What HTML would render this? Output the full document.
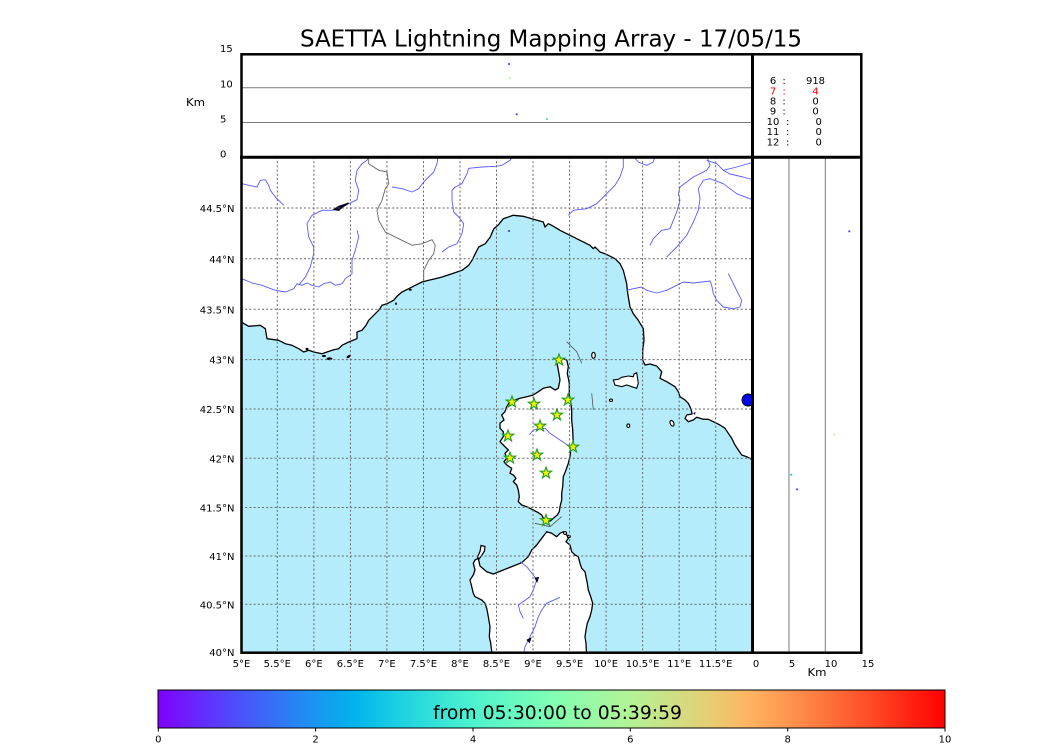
<!DOCTYPE html>
<html><head><meta charset="utf-8"><style>
html,body{margin:0;padding:0;background:#fff;}
svg{display:block;}
text{font-family:"DejaVu Sans","Liberation Sans",sans-serif;fill:#000;}
</style></head><body>
<svg width="1050" height="750" viewBox="0 0 1050 750" xmlns="http://www.w3.org/2000/svg">
<defs>
<linearGradient id="rb" x1="0" x2="1" y1="0" y2="0">
<stop offset="0" stop-color="#8000ff"/>
<stop offset="0.1" stop-color="#4d4ffc"/>
<stop offset="0.2" stop-color="#1a96f2"/>
<stop offset="0.25" stop-color="#00b4eb"/>
<stop offset="0.3" stop-color="#1acee3"/>
<stop offset="0.4" stop-color="#4df3ce"/>
<stop offset="0.5" stop-color="#80ffb4"/>
<stop offset="0.6" stop-color="#b3f396"/>
<stop offset="0.7" stop-color="#e6ce74"/>
<stop offset="0.75" stop-color="#ffb462"/>
<stop offset="0.8" stop-color="#ff964f"/>
<stop offset="0.9" stop-color="#ff4f28"/>
<stop offset="1" stop-color="#ff0000"/>
</linearGradient>
<clipPath id="mapclip"><rect x="241.5" y="157.3" width="511" height="495.5"/></clipPath>
<path id="star" d="M0,-6 L1.41,-1.94 L5.71,-1.85 L2.28,0.74 L3.53,4.85 L0,2.4 L-3.53,4.85 L-2.28,0.74 L-5.71,-1.85 L-1.41,-1.94 Z" fill="#f4f400" stroke="#1f9a1f" stroke-width="1.1"/>
</defs>

<!-- Title -->
<text x="551" y="46.7" font-size="23" text-anchor="middle" textLength="502" lengthAdjust="spacingAndGlyphs">SAETTA Lightning Mapping Array - 17/05/15</text>

<!-- MAP -->
<g clip-path="url(#mapclip)">
<rect x="241.5" y="157.3" width="511" height="495.5" fill="#b4ecfc"/>
<!-- mainland -->
<path fill="#fff" stroke="#000" stroke-width="1.3" stroke-linejoin="round" d="M240,322 L242,322.5 L248.7,326.3 L260.3,325.3 L265.3,328.7 L267,338.7 L278.7,340.3 L285.3,343.7 L292,345.3 L298.7,348.7 L303.7,352 L308.7,350.3 L313.7,352 L322,353.7 L327,352 L333.7,349.7 L338.7,348.7 L342,345.3 L348.7,342 L357,338.7 L357,332 L362,330.3 L366,325.3 L368.7,320.3 L373.7,315.3 L378.7,310.3 L382,305.3 L387,303.7 L393.7,300.3 L397,296.3 L402,292 L408.7,288.7 L415.3,285.3 L422,282 L428.7,280.3 L435.3,278.7 L442,277 L452,273.7 L462,270.3 L468.7,265.3 L472,260.3 L475.3,253.7 L478.7,247 L485.3,243.7 L490.3,237 L493.7,229 L498.7,224.5 L503.3,218.7 L513.3,215.3 L523.3,216.3 L531.7,218.7 L543.3,222 L545,227 L548.3,223.7 L551.7,225.3 L560,230.3 L570,235.3 L580,240.3 L590,245.3 L593.3,248.7 L595,247 L600,252 L605,253.7 L608.3,255.3 L615,258.7 L620,263.7 L623.3,270.3 L625,277 L626.7,283.7 L627.3,290.3 L628.3,297 L630,307 L633.3,313.7 L638.3,320.3 L643.3,328.7 L644,340.3 L642.7,350 L642.7,360 L645,365 L650,364 L656.7,366 L661.7,371.7 L660,378.3 L666.7,381.7 L675,386.7 L678.3,391.7 L680,396.7 L685,400 L688.3,403.3 L690,406.7 L691.7,411.7 L692,414 L686.7,415 L685,418.3 L688.3,421.7 L693.3,420 L696.7,417.3 L703.3,419.3 L708.3,419.3 L713.3,421.7 L720,425 L725,428.3 L728.3,433.3 L731.7,438.3 L735,445 L738.3,450 L741.7,455 L746.7,456.7 L750,458.3 L754,461 L754,150 L240,150 Z"/>
<!-- Corsica -->
<path fill="#fff" stroke="#000" stroke-width="1.3" stroke-linejoin="round" d="M561.7,358.3 L566.7,360 L568.3,366.7 L567.3,373.3 L569.3,383.3 L569.3,395 L570.7,401.7 L571.7,410 L571.7,420 L572.7,430 L573.3,445 L570.7,450 L570,456.7 L568.3,463.3 L566,470 L563.3,476.7 L562.7,486.7 L561.7,493.3 L561.7,500 L560,506.7 L559.3,511.7 L557.3,515 L553.3,518.3 L550.7,520.7 L546.7,521.7 L544,519.3 L541.7,515 L538.3,512.7 L533.3,510 L526.7,506.7 L521.7,505 L518.3,501.7 L519.3,496.7 L518.3,490 L516.7,485 L513.3,481.7 L516,478.3 L513.3,475 L510,473.3 L511.7,468.3 L506.7,465 L504,461.7 L506.7,458.3 L505,453.3 L508.3,450 L503.3,445 L500,441.7 L503.3,436.7 L503.3,431.7 L500,428.3 L500,423.3 L504,420 L501.7,415 L505,411.7 L506.7,406.7 L510,401.7 L515,400 L520,398.3 L526.7,396.7 L533.3,395 L538.3,391.7 L543.3,388.3 L550,386.7 L555,390 L558.3,388.3 L560,380 L558.3,370 L556.7,361.7 Z"/>
<!-- Sardinia -->
<path fill="#fff" stroke="#000" stroke-width="1.3" stroke-linejoin="round" d="M546.7,531.7 L551.7,533.3 L556.7,536.7 L560,533.3 L563.3,531.7 L566.7,535 L568.3,538.3 L566,541.7 L570,545 L571.7,551.7 L575,555 L578.3,556.7 L580,563.3 L581.7,568.3 L585,571.7 L586,576.7 L587.3,583.3 L588.3,590 L590.7,596.7 L592.7,603.3 L591.7,610 L590,616.7 L587.3,623.3 L586,630 L585,636.7 L586,643.3 L586.7,656 L491.7,656 L491.7,651.7 L490.7,643.3 L489.3,636.7 L490,626.7 L488.3,616.7 L486.7,608.3 L485,603.3 L481.7,600 L478.3,598.3 L475,596.7 L473.3,593.3 L471.7,586.7 L470,580 L473.3,575 L475,570 L473.3,563.3 L475,560 L478.3,558.3 L480,566 L486.7,571.7 L493.3,574 L503.3,570 L513.3,566 L521.7,562.7 L528.3,556.7 L531.7,550 L536.7,545 L541.7,538.3 L545,534 Z"/>
<!-- Asinara -->
<path fill="#fff" stroke="#000" stroke-width="1.2" d="M481,545.5 L485,546.5 L484.5,551 L482,555 L479,559 L477.5,557 L480,551.5 Z"/>
<!-- small islands -->
<g fill="#fff" stroke="#000" stroke-width="1.1">
<path d="M613.3,380 L615,385 L621.7,386.7 L626.7,385 L631.7,386.7 L636.7,388.3 L638.3,383.3 L637.3,376.7 L636.7,372.7 L634,374 L633.3,376.7 L628.3,376 L621.7,377.3 L618.3,379.3 Z"/>
<ellipse cx="593.5" cy="355.3" rx="1.8" ry="3"/>
<ellipse cx="611" cy="400.3" rx="1.5" ry="1.2"/>
<ellipse cx="628.3" cy="425.7" rx="1.5" ry="1.8"/>
<ellipse cx="672" cy="423.3" rx="1.8" ry="3" transform="rotate(-25 672 423.3)"/>
<ellipse cx="565" cy="533" rx="1.6" ry="1.4"/>
<ellipse cx="569" cy="536.5" rx="1.3" ry="1.2"/>
</g>
<g fill="#000">
<ellipse cx="324" cy="356" rx="2" ry="1.1"/>
<ellipse cx="329.5" cy="358.8" rx="3" ry="1.4"/>
<ellipse cx="348.7" cy="356.5" rx="2.4" ry="1.2" transform="rotate(-35 348.7 356.5)"/>
<ellipse cx="307" cy="349" rx="1.5" ry="1.2"/>
<ellipse cx="410.3" cy="289.7" rx="1.5" ry="1"/>
<ellipse cx="396" cy="303.7" rx="1" ry="1.2"/>
</g>
<!-- rivers -->
<g fill="none" stroke="#5a5aff" stroke-width="0.9" stroke-linejoin="round">
<polyline points="242,183.7 248.7,185.3 257,187 260.3,180.3 265.3,179.7 268.7,185.3 270.3,190.3 275.3,197 283.7,205.3"/>
<polyline points="242,278.7 252,283 262,285.3 275.3,290.3 285.3,292 293.7,288.7 297,283.7 302,285.3 307,283 312,285.3 318.7,287 323.7,283.7 330.3,282 335.3,285.3 342,283.7 345.3,278.7 352,273.7 352,260.3 355.3,250.3 358.7,237 357,230.3"/>
<polyline points="298.7,285.3 305.3,277 310.3,267 313.7,253.7 313.7,247 308.7,237 307,223.7 312,215.3 322,210.3 332,210.3 338.7,209.3 348.7,203.7 357,199.7 358.7,190.3 355.3,180.3 357,170.3 362,163.7 367,160.3 369,156"/>
<polyline points="392,187 402,188.7 412,192 418.7,188.7 423.7,182 428.7,177 433.7,172 437,163.7 438,156"/>
<polyline points="442,252 448.7,247 457,243.7 462,233.7 463.7,223.7 458.7,217 453.7,212 452,200.3 452,190.3 455.3,187 462,183.7 467,173.7 468.7,168.3 482,167 495.3,166.3 502,165.3 510,160.3 513.3,156"/>
<polyline points="568.3,215.3 573.3,210.3 586.7,208.7 596.7,203.7 606.7,193.7 615,185.3 620,177 623.3,167 623.3,156"/>
<polyline points="633.3,156 638.3,162 646.7,165.3 653.3,162 655,156"/>
<polyline points="626.7,290.3 633.3,288.7 641.7,287 646.7,290.3 656.7,293 666.7,290.3 676.7,285.3 683.3,282 693.3,283 701.7,282 710,281 711.7,285.3 713.3,293.7 716.7,300.3 723.3,307 733.3,308.7 740,307 741.7,300.3 738.3,293.7 735,287 731.7,280.3 728.3,273.7"/>
<polyline points="650,245.3 653.3,238.7 661.7,230.3 670,228.7 673.3,220.3 676.7,212 680,200.3 678.3,193.7 680,187 686.7,182 693.3,177 706.7,170.3 710,165.3 706.7,156"/>
<polyline points="666.7,257 676.7,247 686.7,235.3 693.3,222 698.3,210.3 700,198.7 698.3,188.7 703.3,180.3 710,178.7 723.3,183.7 736.7,193.7 754,200.3"/>
<polyline points="706.7,160.3 716.7,163.7 723.3,170.3 736.7,167 754,162"/>
<polyline points="723.3,170.3 730,174 743,177 754,180"/>
<polyline points="529.3,435 533.3,430 545,428.3 550,433.3 560,440 570,446.7"/>
<polyline points="520,561.7 526.7,566.7 533.3,575 536.7,580 533.3,590 530,596.7 518.3,605 520,611.7 523.3,618.3"/>
<polyline points="560,597.3 546.7,603.3 541.7,610 538.3,616.7 535,626.7 530,636.7 525,646.7 523.3,656"/>
</g>
<!-- border -->
<polyline fill="none" stroke="#666" stroke-width="0.9" points="368.7,156 368.7,163.7 378.7,170.3 387,172 388.7,183.7 385.3,188.7 382,200.3 377,210.3 378.7,220.3 385.3,232 398.7,238.7 412,245.3 422,243.7 432,239.7 435.3,245.3 433.7,253.7 428.7,260.3 423.7,270.3 423.7,280.3"/>
<!-- lakes -->
<path d="M333.7,209.5 L338.7,206.3 L348.7,203 L342,207.5 L338.7,210.5 Z" fill="#000050" stroke="#000" stroke-width="1"/>
<ellipse cx="748" cy="400" rx="6" ry="6" fill="#0000ff" stroke="#000" stroke-width="1"/>
<path d="M535,578 L538.5,577.5 L537,582 Z" fill="#000080" stroke="#000" stroke-width="0.8"/>
<path d="M527,640 L531,638 L529.5,642.5 Z" fill="#000080" stroke="#000" stroke-width="0.8"/>
<path d="M693,413 L695.5,412 L695,415 Z" fill="#000080"/>
<!-- maritime lines -->
<g fill="none" stroke="#555" stroke-width="0.8">
<polyline points="566.7,341.7 576.7,351.7 581.7,363.3"/>
<polyline points="591.7,393.3 593.3,410"/>
<polyline points="535,523.3 550,526.7 561.7,516.7"/>
</g>
<!-- grid -->
<g stroke="#666" stroke-width="1" stroke-dasharray="2,2.2" fill="none">
<line x1="277.3" y1="157" x2="277.3" y2="653"/>
<line x1="313.9" y1="157" x2="313.9" y2="653"/>
<line x1="350.4" y1="157" x2="350.4" y2="653"/>
<line x1="386.9" y1="157" x2="386.9" y2="653"/>
<line x1="423.5" y1="157" x2="423.5" y2="653"/>
<line x1="460" y1="157" x2="460" y2="653"/>
<line x1="496.5" y1="157" x2="496.5" y2="653"/>
<line x1="533" y1="157" x2="533" y2="653"/>
<line x1="569.6" y1="157" x2="569.6" y2="653"/>
<line x1="606.1" y1="157" x2="606.1" y2="653"/>
<line x1="642.6" y1="157" x2="642.6" y2="653"/>
<line x1="679.2" y1="157" x2="679.2" y2="653"/>
<line x1="715.7" y1="157" x2="715.7" y2="653"/>
<line x1="241" y1="208" x2="753" y2="208"/>
<line x1="241" y1="258.8" x2="753" y2="258.8"/>
<line x1="241" y1="309.3" x2="753" y2="309.3"/>
<line x1="241" y1="359.6" x2="753" y2="359.6"/>
<line x1="241" y1="409" x2="753" y2="409"/>
<line x1="241" y1="458.3" x2="753" y2="458.3"/>
<line x1="241" y1="507.5" x2="753" y2="507.5"/>
<line x1="241" y1="556" x2="753" y2="556"/>
<line x1="241" y1="604.3" x2="753" y2="604.3"/>
</g>
<!-- stars -->
<use href="#star" x="559" y="360"/>
<use href="#star" x="512" y="402"/>
<use href="#star" x="534" y="404"/>
<use href="#star" x="568" y="400"/>
<use href="#star" x="557" y="415"/>
<use href="#star" x="540" y="426"/>
<use href="#star" x="508" y="436"/>
<use href="#star" x="573" y="447"/>
<use href="#star" x="510" y="458"/>
<use href="#star" x="537" y="455"/>
<use href="#star" x="546" y="473"/>
<use href="#star" x="546" y="520.5"/>
<circle cx="509" cy="231" r="1.1" fill="#4a4aff"/>
</g>

<!-- top panel -->
<line x1="242" y1="87.8" x2="752" y2="87.8" stroke="#7a7a7a" stroke-width="1"/>
<line x1="242" y1="122.5" x2="752" y2="122.5" stroke="#7a7a7a" stroke-width="1"/>
<circle cx="509" cy="64" r="1.1" fill="#4a4aff"/>
<circle cx="509.7" cy="78.3" r="1" fill="#a8f090"/>
<circle cx="516.7" cy="114.3" r="1.1" fill="#4a4aff"/>
<circle cx="547" cy="119" r="1" fill="#40d8c0"/>

<!-- right panel -->
<line x1="789" y1="157" x2="789" y2="653" stroke="#7a7a7a" stroke-width="1"/>
<line x1="825.3" y1="157" x2="825.3" y2="653" stroke="#7a7a7a" stroke-width="1"/>
<circle cx="849.3" cy="231.3" r="1.1" fill="#4a4aff"/>
<circle cx="834.3" cy="434.7" r="1" fill="#b8f090"/>
<circle cx="791.3" cy="474.7" r="1.1" fill="#20c8e0"/>
<circle cx="797" cy="489.3" r="1.1" fill="#4a4aff"/>

<!-- frames -->
<rect x="241.5" y="54.3" width="619.8" height="598.4" fill="none" stroke="#000" stroke-width="2.5"/>
<line x1="752.5" y1="53" x2="752.5" y2="654" stroke="#000" stroke-width="3"/>
<line x1="240" y1="157.3" x2="862.5" y2="157.3" stroke="#000" stroke-width="3"/>

<!-- stats -->
<g font-size="10">
<text x="773" y="84" text-anchor="middle">6</text><text x="784" y="84" text-anchor="middle">:</text><text x="815.5" y="84" text-anchor="middle">918</text>
<text x="773" y="94.3" text-anchor="middle" style="fill:#ff0000">7</text><text x="784" y="94.3" text-anchor="middle" style="fill:#ff0000">:</text><text x="815.5" y="94.3" text-anchor="middle" style="fill:#ff0000">4</text>
<text x="773" y="104.3" text-anchor="middle">8</text><text x="784" y="104.3" text-anchor="middle">:</text><text x="815.5" y="104.3" text-anchor="middle">0</text>
<text x="773" y="114.3" text-anchor="middle">9</text><text x="784" y="114.3" text-anchor="middle">:</text><text x="815.5" y="114.3" text-anchor="middle">0</text>
<text x="773" y="125" text-anchor="middle">10</text><text x="787.7" y="125" text-anchor="middle">:</text><text x="818.7" y="125" text-anchor="middle">0</text>
<text x="773" y="135" text-anchor="middle">11</text><text x="787.7" y="135" text-anchor="middle">:</text><text x="818.7" y="135" text-anchor="middle">0</text>
<text x="773" y="145.3" text-anchor="middle">12</text><text x="787.7" y="145.3" text-anchor="middle">:</text><text x="818.7" y="145.3" text-anchor="middle">0</text>
</g>

<!-- top panel y labels -->
<g font-size="10">
<text x="220" y="52">15</text>
<text x="220" y="87.5">10</text>
<text x="220" y="122.5">5</text>
<text x="220" y="157.5">0</text>
</g>
<text x="186" y="106" font-size="11" textLength="19" lengthAdjust="spacingAndGlyphs">Km</text>

<!-- lat labels -->
<g font-size="10" text-anchor="end">
<text x="234.5" y="212">44.5°N</text>
<text x="234.5" y="262.8">44°N</text>
<text x="234.5" y="313.3">43.5°N</text>
<text x="234.5" y="363.6">43°N</text>
<text x="234.5" y="413">42.5°N</text>
<text x="234.5" y="462.3">42°N</text>
<text x="234.5" y="511.5">41.5°N</text>
<text x="234.5" y="560">41°N</text>
<text x="234.5" y="608.3">40.5°N</text>
<text x="234.5" y="656">40°N</text>
</g>

<!-- lon labels -->
<g font-size="10" text-anchor="middle">
<text x="241.5" y="667">5°E</text>
<text x="277.3" y="667">5.5°E</text>
<text x="313.9" y="667">6°E</text>
<text x="350.4" y="667">6.5°E</text>
<text x="386.9" y="667">7°E</text>
<text x="423.5" y="667">7.5°E</text>
<text x="460" y="667">8°E</text>
<text x="496.5" y="667">8.5°E</text>
<text x="533" y="667">9°E</text>
<text x="569.6" y="667">9.5°E</text>
<text x="606.1" y="667">10°E</text>
<text x="642.6" y="667">10.5°E</text>
<text x="679.2" y="667">11°E</text>
<text x="715.7" y="667">11.5°E</text>
<text x="756" y="667">0</text>
<text x="792" y="667">5</text>
<text x="831" y="667">10</text>
<text x="868" y="667">15</text>
</g>
<text x="807.5" y="676" font-size="11" textLength="19" lengthAdjust="spacingAndGlyphs">Km</text>

<!-- colorbar -->
<rect x="158" y="690" width="787" height="38" fill="url(#rb)" stroke="#000" stroke-width="1"/>
<g stroke="#000" stroke-width="1">
<line x1="158.3" y1="728" x2="158.3" y2="731.5"/>
<line x1="315.6" y1="728" x2="315.6" y2="731.5"/>
<line x1="473" y1="728" x2="473" y2="731.5"/>
<line x1="630.3" y1="728" x2="630.3" y2="731.5"/>
<line x1="787.7" y1="728" x2="787.7" y2="731.5"/>
<line x1="945" y1="728" x2="945" y2="731.5"/>
</g>
<g font-size="10" text-anchor="middle">
<text x="158.3" y="742.5">0</text>
<text x="315.6" y="742.5">2</text>
<text x="473" y="742.5">4</text>
<text x="630.3" y="742.5">6</text>
<text x="787.7" y="742.5">8</text>
<text x="945" y="742.5">10</text>
</g>
<text x="557.5" y="719" font-size="19" text-anchor="middle" textLength="249" lengthAdjust="spacingAndGlyphs">from 05:30:00 to 05:39:59</text>
</svg>
</body></html>
